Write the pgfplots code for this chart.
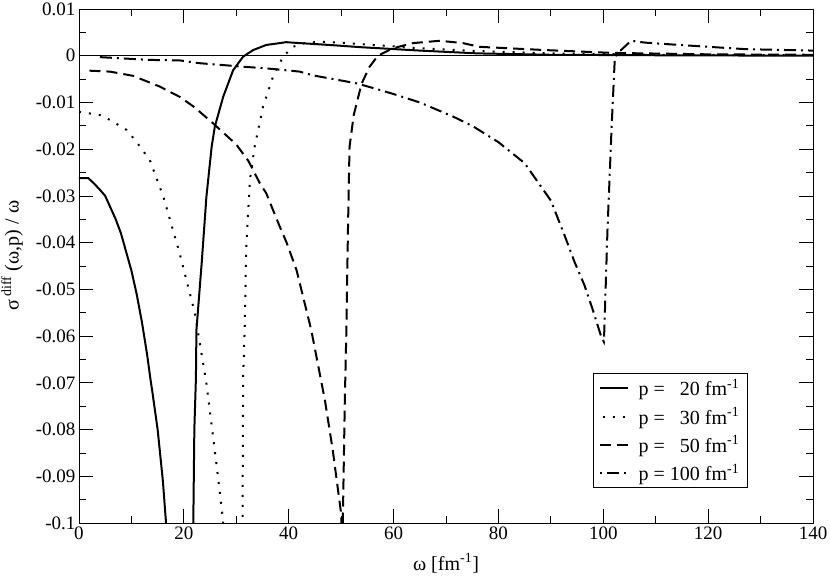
\documentclass[border=0pt]{standalone}
\usepackage{fontspec}
\setmainfont{Liberation Serif}
\usepackage{pgfplots}
\pgfplotsset{compat=1.18}

\begin{document}
\begin{tikzpicture}
\path[use as bounding box] (-79bp,-53bp) rectangle (751bp,523bp);
\begin{axis}[
  at={(0,0)}, anchor=south west,
  scale only axis, width=734bp, height=514bp,
  xmin=0, xmax=140, ymin=-0.1, ymax=0.01,
  xtick={0,20,40,60,80,100,120,140},
  xticklabels={0,20,40,60,80,100,120,140},
  ytick={-0.1,-0.09,-0.08,-0.07,-0.06,-0.05,-0.04,-0.03,-0.02,-0.01,0,0.01},
  yticklabels={-0.1,-0.09,-0.08,-0.07,-0.06,-0.05,-0.04,-0.03,-0.02,-0.01,0,0.01},
  minor x tick num=1, minor y tick num=1,
  tick align=inside, major tick length=14bp, minor tick length=7bp,
  axis line style={line width=0.8bp},
  every tick/.style={black, line width=0.8bp},
  tick label style={font=\fontsize{19bp}{22bp}\selectfont},
  xlabel={ω [fm\textsuperscript{-1}]},
  ylabel={σ\,\textsuperscript{diff} (ω,p) / ω},
  label style={font=\fontsize{20bp}{23bp}\selectfont},
  xlabel style={at={(axis description cs:0.5,-0.078)}, anchor=center},
  ylabel style={at={(axis description cs:-0.0913,0.52)}, anchor=center},
  legend style={at={(0.700,0.068)}, anchor=south west, draw=black, line width=0.8bp,
    font=\fontsize{20bp}{23bp}\selectfont, inner xsep=6bp, inner ysep=3bp,
    row sep=5bp, nodes={inner sep=2.5bp}},
  legend cell align=left,
  legend image code/.code={\draw[#1, line width=2bp, dash phase=17bp] (0bp,0bp) -- (28bp,0bp);},
]
\addplot[black, line width=0.7bp, forget plot] coordinates {(0,0) (140,0)};

% p = 20
\addplot[black, solid, line width=2bp] coordinates {
(0,-0.0262) (1.8,-0.0262) (3,-0.0275) (4,-0.0287) (5,-0.0300) (6,-0.0325)
(7,-0.0350) (8,-0.0380) (9,-0.0420) (10,-0.0460) (11,-0.0510) (12,-0.0570)
(13,-0.0640) (13.6,-0.0690) (14,-0.0720) (15,-0.0800) (16,-0.0910) (16.6,-0.1000)
(17.4,-0.115) (21.6,-0.115) (21.8,-0.1000) (22.0,-0.0800) (22.3,-0.0690)
(22.4,-0.0587) (23.4,-0.0444) (24.3,-0.0302) (25.3,-0.0195) (25.9,-0.0152)
(27.5,-0.0088) (29.4,-0.0031) (31.3,-0.0002) (33.2,0.0012) (35.7,0.0023)
(38.3,0.0027) (39.5,0.0029) (42.1,0.0027) (47.8,0.0023) (54.1,0.0018)
(57.3,0.0016) (65,0.0011) (76,0.0005) (90,0.0002) (110,0.0001) (140,0.0000)
};
\addlegendentry{\hspace{7bp}p = \phantom{1}20 fm\textsuperscript{-1}}

% p = 30
\addplot[black, line width=2bp, dash pattern=on 2bp off 8bp] coordinates {
(0,-0.0120) (4,-0.0127) (6,-0.0138) (9.1,-0.0159) (11,-0.0185) (13.5,-0.0223)
(16.1,-0.0302) (19.2,-0.0423) (22.1,-0.0551) (24.3,-0.0701) (26.2,-0.0872)
(27.4,-0.0987) (27.6,-0.102) (28.5,-0.115) (30.8,-0.115) (31.2,-0.1000)
(31.3,-0.0690) (31.6,-0.0587) (31.9,-0.0409) (32.6,-0.0266) (33.5,-0.0195)
(35.1,-0.0109) (37.0,-0.0045) (38.9,-0.0002) (40.8,0.0019) (43,0.0027)
(45.9,0.0030) (50,0.0028) (56.1,0.0023) (65,0.0016) (76,0.0010) (90,0.0005)
(110,0.0002) (140,0.0001)
};
\addlegendentry{\hspace{7bp}p = \phantom{1}30 fm\textsuperscript{-1}}

% p = 50
\addplot[black, line width=2bp, dash pattern=on 11bp off 6bp] coordinates {
(2,-0.0032) (5.9,-0.0034) (10.3,-0.0043) (15.4,-0.0066) (19.2,-0.0088)
(22,-0.0110) (25.6,-0.0145) (30,-0.0190) (32.3,-0.0225) (34.5,-0.0273)
(35.7,-0.0294) (38.3,-0.0366) (39.6,-0.0400) (41.5,-0.0459) (44.3,-0.0587)
(46.9,-0.0737) (48.4,-0.0844) (50.0,-0.0980) (50.1,-0.103) (50.3,-0.103)
(50.35,-0.0980) (50.7,-0.0737) (51.0,-0.0587) (51.3,-0.0373) (51.6,-0.0195)
(52.4,-0.0127) (53.9,-0.0060) (55.4,-0.0024) (57,0.0000) (59.9,0.0016)
(63.7,0.0027) (68.8,0.0032) (73.2,0.0027) (76.4,0.0019) (89.1,0.0012)
(101.8,0.0006) (120,0.0003) (140,0.0002)
};
\addlegendentry{\hspace{7bp}p = \phantom{1}50 fm\textsuperscript{-1}}

% p = 100
\addplot[black, line width=2bp, dash pattern=on 12bp off 5bp on 2bp off 5bp] coordinates {
(4,-0.0003) (13.5,-0.0009) (19.2,-0.0010) (23,-0.0016) (31.9,-0.0024)
(35.7,-0.0027) (42.1,-0.0034) (44.6,-0.0042) (52.9,-0.0059) (57.3,-0.0073)
(60,-0.0082) (65,-0.0100) (71.3,-0.0130) (75,-0.0150) (80,-0.0185)
(85,-0.0230) (90,-0.0310) (92.6,-0.0384) (94.5,-0.0441) (96.4,-0.0491)
(98,-0.0544) (99.6,-0.0601) (100.1,-0.0612) (100.2,-0.0587) (100.8,-0.0373)
(101.6,-0.0150) (102.2,-0.0005) (102.7,0.0005) (105.3,0.0032) (108,0.0028)
(114.5,0.0023) (127.2,0.0014) (140,0.0011)
};
\addlegendentry{\hspace{7bp}p = 100 fm\textsuperscript{-1}}
\end{axis}
\end{tikzpicture}
\end{document}
